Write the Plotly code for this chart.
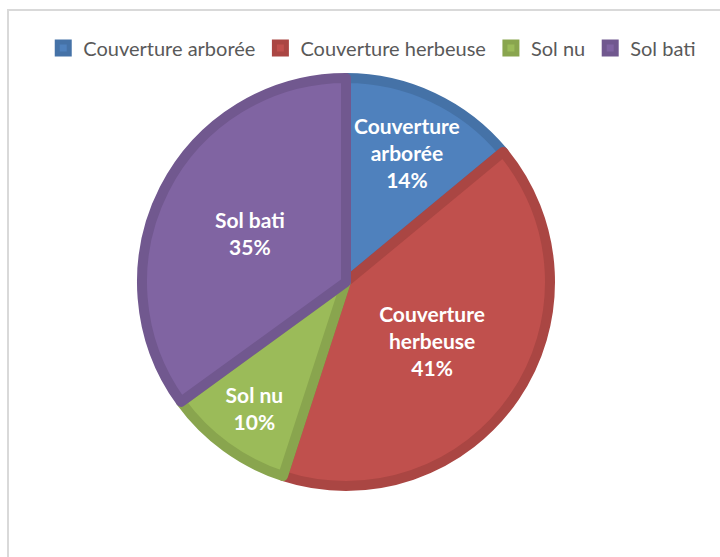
import plotly.graph_objects as go

categories = ["Couverture arborée", "Couverture herbeuse", "Sol nu", "Sol bati"]
values = [14, 41, 10, 35]
fill_colors = ["#4F81BD", "#C0504D", "#9BBB59", "#8064A2"]
edge_colors = ["#4572A7", "#AA4643", "#89A54E", "#71588F"]

slice_text = [c.replace(" ", "<br>", 1) if c.startswith("Couverture") else c for c in categories]

W, H = 720, 557
cx, cy, r = 346, 282, 204

fig = go.Figure(go.Pie(
    labels=categories,
    values=values,
    text=slice_text,
    texttemplate="%{text}<br>%{percent:.0%}",
    textinfo="text+percent",
    textposition="inside",
    insidetextorientation="horizontal",
    insidetextfont=dict(family="Lato", size=21, color="white", weight="bold"),
    sort=False,
    direction="clockwise",
    rotation=0,
    marker=dict(colors=fill_colors, line=dict(color=edge_colors, width=10)),
    domain=dict(x=[(cx - r) / W, (cx + r) / W], y=[(H - cy - r) / H, (H - cy + r) / H]),
    hoverinfo="skip",
))

fig.update_layout(
    width=W, height=H,
    margin=dict(l=0, r=0, t=0, b=0),
    paper_bgcolor="white",
    uniformtext=dict(mode="show", minsize=21),
    showlegend=True,
    legend=dict(orientation="h", x=0.517, xanchor="center", y=1 - 48 / H, yanchor="middle",
                font=dict(family="Lato", size=20, color="#595959"), itemwidth=30,
                traceorder="normal"),
    shapes=[dict(type="rect", xref="paper", yref="paper", x0=8 / W, x1=1.05, y0=-0.05, y1=1 - 10 / H,
                 line=dict(color="#D9D9D9", width=2), fillcolor="rgba(0,0,0,0)", layer="below")],
)

fig.write_html("out.html", config={"displayModeBar": False},
               post_script="document.body.style.margin='0';document.body.style.overflow='hidden';")
